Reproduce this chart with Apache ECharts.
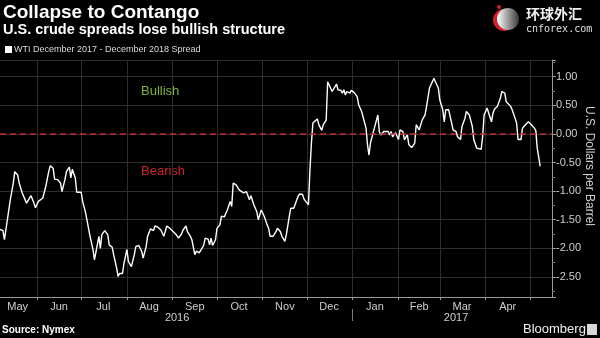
<!DOCTYPE html>
<html>
<head>
<meta charset="utf-8">
<script src="https://cdn.jsdelivr.net/npm/echarts@6/dist/echarts.min.js"></script>
<style>
html,body{margin:0;padding:0;background:#000;}
#chart{width:600px;height:338px;}
</style>
</head>
<body>
<div id="chart"></div>
<script>
// ---- data ----
const dates = [
'2016-05-07','2016-05-09','2016-05-10','2016-05-12','2016-05-14','2016-05-16','2016-05-17','2016-05-19','2016-05-20','2016-05-22',
'2016-05-23','2016-05-25','2016-05-26','2016-05-28','2016-05-30','2016-05-31','2016-06-02','2016-06-05','2016-06-07','2016-06-09',
'2016-06-10','2016-06-12','2016-06-13','2016-06-15','2016-06-17','2016-06-18','2016-06-20','2016-06-21','2016-06-23','2016-06-24',
'2016-06-25','2016-06-27','2016-06-28','2016-07-01','2016-07-02','2016-07-04','2016-07-06','2016-07-07','2016-07-09','2016-07-10',
'2016-07-11','2016-07-13','2016-07-14','2016-07-15','2016-07-17','2016-07-19','2016-07-20','2016-07-22','2016-07-23','2016-07-25',
'2016-07-26','2016-07-27','2016-07-29','2016-07-30','2016-08-01','2016-08-02','2016-08-04','2016-08-06','2016-08-07','2016-08-09',
'2016-08-11','2016-08-12','2016-08-14','2016-08-15','2016-08-17','2016-08-19','2016-08-20','2016-08-22','2016-08-24','2016-08-25',
'2016-08-26','2016-08-28','2016-08-30','2016-08-31','2016-09-03','2016-09-05','2016-09-07','2016-09-08','2016-09-10','2016-09-11',
'2016-09-13','2016-09-14','2016-09-16','2016-09-17','2016-09-19','2016-09-20','2016-09-22','2016-09-23','2016-09-25','2016-09-26',
'2016-09-27','2016-09-28','2016-09-30','2016-10-01','2016-10-03','2016-10-04','2016-10-06','2016-10-08','2016-10-10','2016-10-11',
'2016-10-12','2016-10-14','2016-10-16','2016-10-17','2016-10-19','2016-10-20','2016-10-21','2016-10-23','2016-10-24','2016-10-26',
'2016-10-28','2016-10-29','2016-10-31','2016-11-02','2016-11-04','2016-11-05','2016-11-06','2016-11-08','2016-11-10','2016-11-11',
'2016-11-13','2016-11-14','2016-11-16','2016-11-17','2016-11-19','2016-11-20','2016-11-22','2016-11-23','2016-11-25','2016-11-26',
'2016-11-28','2016-11-29','2016-11-30','2016-12-02','2016-12-03','2016-12-04','2016-12-05','2016-12-06','2016-12-08','2016-12-09',
'2016-12-11','2016-12-12','2016-12-14','2016-12-15','2016-12-16','2016-12-18','2016-12-19','2016-12-21','2016-12-22','2016-12-24',
'2016-12-25','2016-12-26','2016-12-27','2016-12-28','2016-12-30','2016-12-31','2017-01-02','2017-01-04','2017-01-05','2017-01-07',
'2017-01-08','2017-01-10','2017-01-11','2017-01-12','2017-01-13','2017-01-15','2017-01-16','2017-01-18','2017-01-19','2017-01-20',
'2017-01-22','2017-01-23','2017-01-25','2017-01-26','2017-01-27','2017-01-28','2017-01-30','2017-02-01','2017-02-02','2017-02-04',
'2017-02-05','2017-02-07','2017-02-08','2017-02-10','2017-02-12','2017-02-13','2017-02-15','2017-02-17','2017-02-18','2017-02-19',
'2017-02-20','2017-02-22','2017-02-23','2017-02-25','2017-02-26','2017-02-28','2017-03-01','2017-03-02','2017-03-03','2017-03-04',
'2017-03-05','2017-03-07','2017-03-08','2017-03-10','2017-03-12','2017-03-13','2017-03-15','2017-03-16','2017-03-18','2017-03-19',
'2017-03-20','2017-03-21','2017-03-23','2017-03-24','2017-03-26','2017-03-27','2017-03-29','2017-03-30','2017-03-31','2017-04-02',
'2017-04-03','2017-04-05','2017-04-06','2017-04-07','2017-04-09','2017-04-11','2017-04-12','2017-04-14','2017-04-15','2017-04-16',
'2017-04-18','2017-04-19','2017-04-21','2017-04-22','2017-04-23','2017-04-24','2017-04-25','2017-04-26','2017-04-28','2017-04-30',
'2017-05-01','2017-05-02','2017-05-04','2017-05-05','2017-05-06','2017-05-08'
];
const spread = [
-1.67,-1.69,-1.85,-1.50,-1.15,-0.86,-0.66,-0.72,-0.86,-1.03,
-1.01,-1.21,-1.21,-1.08,-1.21,-1.29,-1.18,-1.12,-0.92,-0.66,
-0.56,-0.60,-0.79,-0.80,-0.86,-1.01,-0.80,-0.66,-0.58,-0.77,
-0.62,-0.77,-1.02,-1.02,-1.18,-1.38,-1.65,-1.79,-2.02,-2.20,
-2.17,-1.79,-2.00,-1.76,-1.69,-1.76,-1.94,-1.98,-2.11,-2.34,
-2.49,-2.44,-2.44,-2.26,-2.02,-2.23,-2.32,-2.11,-1.97,-1.95,
-2.05,-2.17,-1.97,-1.79,-1.66,-1.69,-1.61,-1.63,-1.68,-1.65,
-1.79,-1.61,-1.65,-1.66,-1.75,-1.82,-1.75,-1.68,-1.61,-1.71,
-1.79,-1.85,-2.11,-2.05,-2.08,-2.09,-1.95,-1.82,-1.84,-1.94,
-1.82,-1.95,-1.85,-1.65,-1.59,-1.44,-1.45,-1.33,-1.18,-1.27,
-0.86,-0.89,-0.98,-0.97,-1.03,-1.06,-1.01,-1.15,-1.08,-1.24,
-1.36,-1.50,-1.33,-1.44,-1.59,-1.65,-1.79,-1.79,-1.71,-1.65,
-1.71,-1.79,-1.88,-1.76,-1.44,-1.30,-1.30,-1.31,-1.09,-1.05,
-1.06,-1.14,-1.15,-1.24,-0.63,-0.16,0.19,0.21,0.26,0.16,
0.06,0.16,0.24,0.91,0.90,0.74,0.74,0.87,0.77,0.76,
0.71,0.77,0.68,0.74,0.71,0.76,0.72,0.65,0.51,0.39,
0.37,0.10,-0.19,-0.37,-0.16,0.04,0.07,0.33,0.04,-0.02,
0.04,0.02,0.04,-0.02,0.04,-0.05,0.02,-0.10,0.07,0.04,
-0.10,-0.02,-0.19,-0.24,-0.16,0.16,0.07,0.24,0.27,0.33,
0.48,0.80,0.80,0.97,0.91,0.80,0.59,0.56,0.42,0.21,
0.42,0.42,0.42,0.07,0.04,-0.05,-0.10,0.13,0.27,0.39,
0.41,0.33,0.13,-0.10,-0.25,-0.23,-0.27,-0.05,0.33,0.45,
0.48,0.21,0.36,0.43,0.48,0.62,0.74,0.71,0.56,0.58,
0.48,0.42,0.27,0.19,-0.10,-0.13,-0.10,0.10,0.16,0.21,
0.23,0.16,0.10,0.06,-0.25,-0.57
];
const axisStart = '2016-05-07';
const axisEnd = '2017-05-16';
const monthLabels = ['May','Jun','Jul','Aug','Sep','Oct','Nov','Dec','Jan','Feb','Mar','Apr'];
const monthLabelDates = ['2016-05-19','2016-06-16','2016-07-16','2016-08-16','2016-09-16','2016-10-16','2016-11-16','2016-12-16','2017-01-16','2017-02-15','2017-03-16','2017-04-16'];
const yearLabels = ['2016','2017'];
const yearLabelDates = ['2016-09-04','2017-03-12'];
const yearSeparatorDates = ['2017-01-01'];
const yMin = -2.85, yMax = 1.29;

// ---- build helpers ----
function dayList(a, b){
  const out = [];
  let t = Date.UTC(+a.slice(0,4), +a.slice(5,7)-1, +a.slice(8,10));
  const e = Date.UTC(+b.slice(0,4), +b.slice(5,7)-1, +b.slice(8,10));
  while (t <= e){
    const d = new Date(t);
    out.push(d.getUTCFullYear()+'-'+String(d.getUTCMonth()+1).padStart(2,'0')+'-'+String(d.getUTCDate()).padStart(2,'0'));
    t += 86400000;
  }
  return out;
}
const days = dayList(axisStart, axisEnd);
const seriesData = dates.map((d,i)=>[d, spread[i]]);

const FONT = '"Liberation Sans", Arial, sans-serif';
const chart = echarts.init(document.getElementById('chart'), null, {renderer:'canvas'});
chart.setOption({
  backgroundColor:'#000',
  animation:false,
  grid:{left:0,right:48,top:60,bottom:41,containLabel:false},
  xAxis:[
    {type:'time', min:axisStart, max:axisEnd, show:false},
    {type:'category', data:days, boundaryGap:false, position:'bottom',
      axisLine:{show:true, lineStyle:{color:'#9a9a9a', width:1}},
      axisTick:{show:true, length:3, interval:(i,v)=>v.slice(8)==='01', lineStyle:{color:'#9a9a9a'}},
      splitLine:{show:true, interval:(i,v)=>v.slice(8)==='01', lineStyle:{color:'#2e2e2e', width:1}},
      axisLabel:{show:true, interval:(i,v)=>monthLabelDates.indexOf(v)>=0,
        formatter:v=>monthLabels[monthLabelDates.indexOf(v)]||'',
        color:'#cfcfcf', fontSize:11, fontFamily:FONT, margin:4, hideOverlap:false}
    },
    {type:'category', data:days, boundaryGap:false, position:'bottom', offset:12,
      axisLine:{show:false},
      axisTick:{show:true, length:12, interval:(i,v)=>yearSeparatorDates.indexOf(v)>=0, lineStyle:{color:'#7a7a7a'}},
      splitLine:{show:false},
      axisLabel:{show:true, interval:(i,v)=>yearLabelDates.indexOf(v)>=0,
        formatter:v=>yearLabels[yearLabelDates.indexOf(v)]||'',
        color:'#cfcfcf', fontSize:11, fontFamily:FONT, margin:3, hideOverlap:false}
    }
  ],
  yAxis:{
    type:'value', position:'right', min:yMin, max:yMax, splitNumber:8,
    axisLine:{show:true, lineStyle:{color:'#9a9a9a'}},
    axisTick:{show:true, length:4, lineStyle:{color:'#9a9a9a'}},
    minorTick:{show:true, splitNumber:2, length:3, lineStyle:{color:'#7a7a7a'}},
    splitLine:{show:true, lineStyle:{color:'#2e2e2e', width:1}},
    axisLabel:{color:'#cfcfcf', fontSize:11, fontFamily:FONT, margin:4, showMinLabel:false, showMaxLabel:false,
      formatter:v=>{ const r=Math.round(v*2); return Math.abs(v*2-r)<1e-6 ? v.toFixed(2) : ''; }}
  },
  series:[{
    type:'line', xAxisIndex:0, yAxisIndex:0, data:seriesData,
    showSymbol:false, symbol:'none',
    lineStyle:{color:'#ffffff', width:1.4},
    markLine:{silent:true, symbol:['none','none'], label:{show:false},
      lineStyle:{color:'#c62a2d', type:[6,4], width:1.6},
      data:[{yAxis:0}]}
  }],
  graphic:[
    {type:'text', left:3, top:3, style:{text:'Collapse to Contango', fill:'#fff', font:'bold 19px '+FONT}},
    {type:'text', left:3, top:22, style:{text:'U.S. crude spreads lose bullish structure', fill:'#fff', font:'bold 14.5px '+FONT}},
    {type:'rect', shape:{x:5, y:46, width:7, height:7}, style:{fill:'#fff'}},
    {type:'text', left:14, top:45, style:{text:'WTI December 2017 - December 2018 Spread', fill:'#dcdcdc', font:'9px '+FONT}},
    {type:'text', left:141, top:85, style:{text:'Bullish', fill:'#7fb43c', font:'13px '+FONT}},
    {type:'text', left:141, top:165, style:{text:'Bearish', fill:'#c8262b', font:'13px '+FONT}},
    {type:'text', x:589, y:166, rotation:-Math.PI/2, style:{text:'U.S. Dollars per Barrel', fill:'#cfcfcf', font:'12px '+FONT, align:'center', verticalAlign:'middle'}},
    {type:'text', left:2, top:325, style:{text:'Source: Nymex', fill:'#fff', font:'bold 10px '+FONT}},
    {type:'text', left:523, top:323, style:{text:'Bloomberg', fill:'#f0f0f0', font:'13px '+FONT}},
    {type:'rect', shape:{x:587, y:324, width:10, height:11}, style:{fill:'#d8d8d8'}},
    {type:'circle', shape:{cx:504, cy:20, r:11}, style:{fill:'#d2202a'}},
    {type:'circle', shape:{cx:508, cy:19, r:11}, style:{fill:new echarts.graphic.LinearGradient(0,0,1,0,[{offset:0,color:'#ffffff'},{offset:1,color:'#3a3a3a'}])}},
    {type:'circle', shape:{cx:499, cy:7, r:2}, style:{fill:'#d2202a'}},
    {type:'text', left:526, top:7, style:{text:'环球外汇', fill:'#f0f0f0', font:'bold 14px "Noto Sans CJK SC", sans-serif'}},
    {type:'text', left:526, top:24, style:{text:'cnforex.com', fill:'#e0e0e0', font:'10px "DejaVu Sans Mono", monospace'}}
  ]
});
</script>
</body>
</html>
